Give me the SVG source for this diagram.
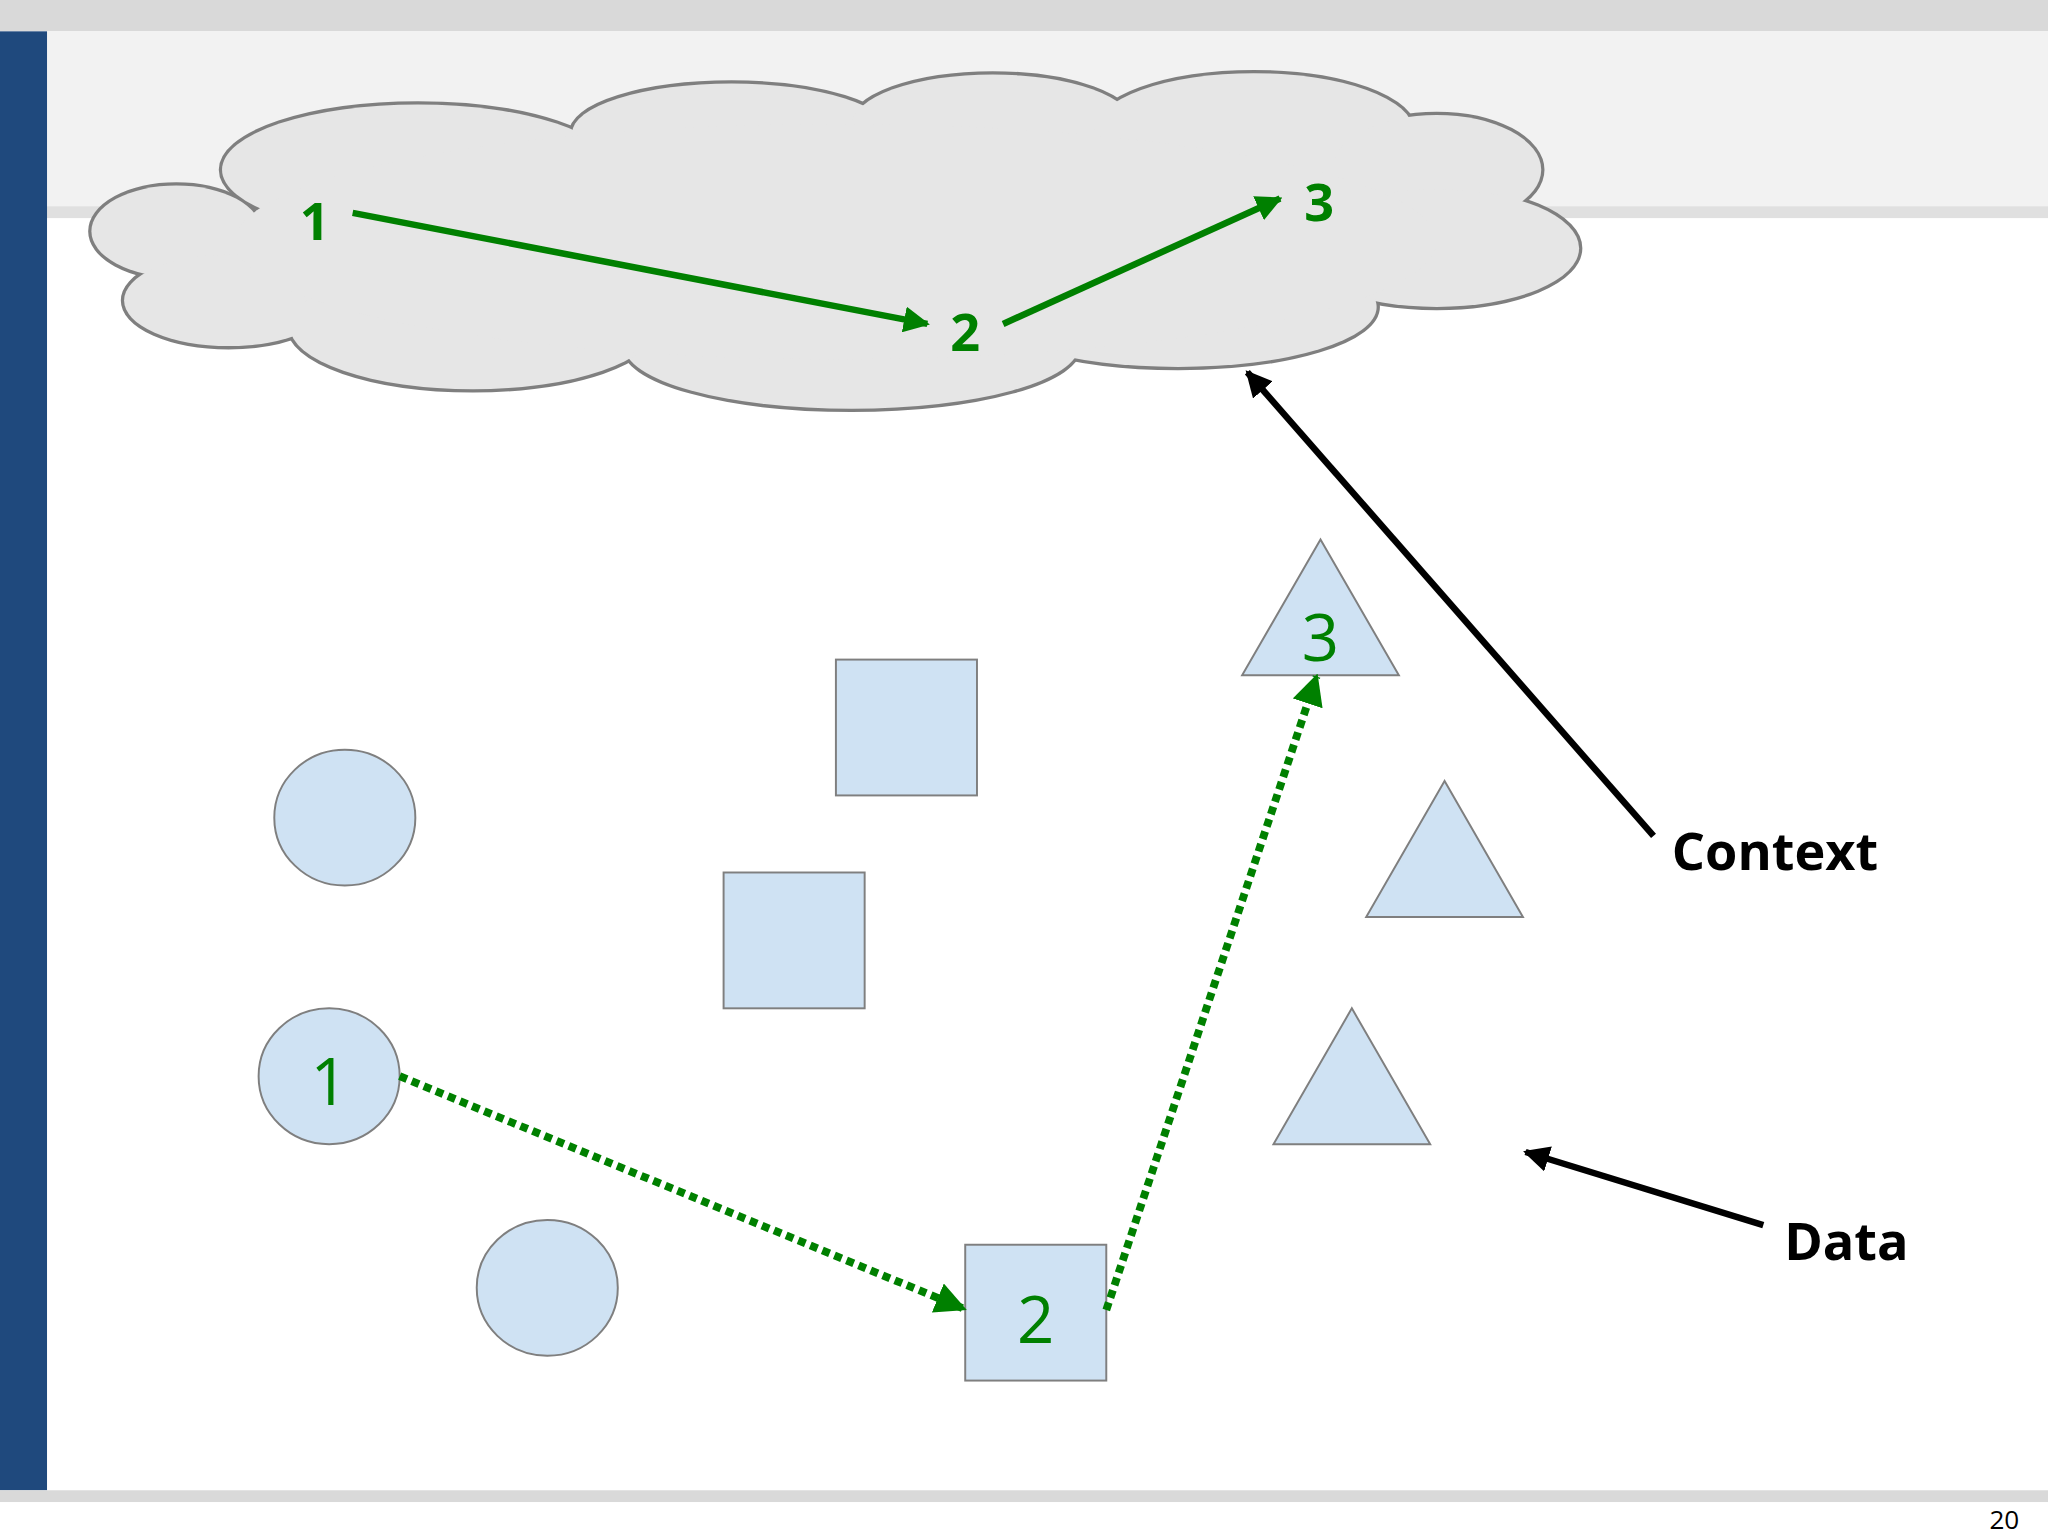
<svg xmlns="http://www.w3.org/2000/svg" width="2048" height="1536" viewBox="0 0 2048 1536">
<style>
.cl{fill:#e6e6e6;stroke:#7f7f7f;stroke-width:5}
.cf{fill:#e6e6e6}
.sh{fill:#cfe2f3;stroke:#7f7f7f;stroke-width:1.5}
.gn{fill:#008000;font-family:"Open Sans",sans-serif;text-anchor:middle}
.g{stroke:#008000;stroke-width:5;fill:none}
.gd{stroke:#008000;stroke-width:6;stroke-dasharray:6 4;fill:none}
.k{stroke:#000;stroke-width:5;fill:none}
.lb{font-family:"Open Sans",sans-serif;font-weight:bold;font-size:40px;fill:#000}
</style>
<defs>
<marker id="ag" viewBox="0 0 10 10" refX="9" refY="5" markerWidth="4" markerHeight="4" orient="auto" markerUnits="strokeWidth"><path d="M0,0L10,5L0,10z" fill="#008000"/></marker>
<marker id="ak" viewBox="0 0 10 10" refX="9" refY="5" markerWidth="4" markerHeight="4" orient="auto" markerUnits="strokeWidth"><path d="M0,0L10,5L0,10z" fill="#000"/></marker>
</defs>
<rect width="2048" height="1536" fill="#fff"/>
<g transform="scale(1.30612)">
<rect x="0" y="0" width="1568" height="24" fill="#d9d9d9"/>
<rect x="36" y="24" width="1532" height="136" fill="#f2f2f2"/>
<rect x="36" y="158" width="1532" height="9" fill="#e0e0e0"/>
<rect x="0" y="24" width="36" height="1117" fill="#1f497d"/>
<rect x="0" y="1141" width="1568" height="9" fill="#d9d9d9"/>
<text x="1546" y="1171" font-family="Open Sans,sans-serif" font-size="20" text-anchor="end">20</text>
<g id="cloud">
<ellipse class="cl" cx="135" cy="177" rx="65" ry="35"/>
<ellipse class="cl" cx="175" cy="230" rx="80" ry="35"/>
<ellipse class="cl" cx="320" cy="130" rx="150" ry="50"/>
<ellipse class="cl" cx="560" cy="102" rx="122" ry="38"/>
<ellipse class="cl" cx="760" cy="96" rx="108" ry="39"/>
<ellipse class="cl" cx="960" cy="100" rx="122" ry="44"/>
<ellipse class="cl" cx="1100" cy="130" rx="80" ry="42"/>
<ellipse class="cl" cx="1100" cy="190" rx="109" ry="45"/>
<ellipse class="cl" cx="902" cy="235" rx="152" ry="46"/>
<ellipse class="cl" cx="652" cy="265" rx="174" ry="48"/>
<ellipse class="cl" cx="362" cy="250" rx="140" ry="48"/>
<ellipse class="cf" cx="135" cy="177" rx="65" ry="35"/>
<ellipse class="cf" cx="175" cy="230" rx="80" ry="35"/>
<ellipse class="cf" cx="320" cy="130" rx="150" ry="50"/>
<ellipse class="cf" cx="560" cy="102" rx="122" ry="38"/>
<ellipse class="cf" cx="760" cy="96" rx="108" ry="39"/>
<ellipse class="cf" cx="960" cy="100" rx="122" ry="44"/>
<ellipse class="cf" cx="1100" cy="130" rx="80" ry="42"/>
<ellipse class="cf" cx="1100" cy="190" rx="109" ry="45"/>
<ellipse class="cf" cx="902" cy="235" rx="152" ry="46"/>
<ellipse class="cf" cx="652" cy="265" rx="174" ry="48"/>
<ellipse class="cf" cx="362" cy="250" rx="140" ry="48"/>
<ellipse class="cf" cx="640" cy="185" rx="460" ry="90"/>
</g>
<g id="c1"><text class="gn" x="241" y="184" font-size="40" font-weight="bold">1</text></g>
<g id="c2"><text class="gn" x="739" y="269" font-size="40" font-weight="bold">2</text></g>
<g id="c3"><text class="gn" x="1010" y="169" font-size="40" font-weight="bold">3</text></g>
<g id="circleA"><ellipse class="sh" cx="264" cy="626" rx="54" ry="52"/></g>
<g id="circle1"><ellipse class="sh" cx="252" cy="824" rx="54" ry="52"/><text class="gn" x="252" y="846" font-size="50">1</text></g>
<g id="circleB"><ellipse class="sh" cx="419" cy="986" rx="54" ry="52"/></g>
<g id="squareA"><rect class="sh" x="640" y="505" width="108" height="104"/></g>
<g id="squareB"><rect class="sh" x="554" y="668" width="108" height="104"/></g>
<g id="square2"><rect class="sh" x="739" y="953" width="108" height="104"/><text class="gn" x="793" y="1028" font-size="50">2</text></g>
<g id="tri3"><polygon class="sh" points="1011,413 951,517 1071,517"/><text class="gn" x="1011" y="506" font-size="50">3</text></g>
<g id="triA"><polygon class="sh" points="1106,598 1046,702 1166,702"/></g>
<g id="triB"><polygon class="sh" points="1035,772 975,876 1095,876"/></g>
<g id="connectors">
<line class="g" x1="270" y1="163" x2="710" y2="248" marker-end="url(#ag)"/>
<line class="g" x1="768" y1="248" x2="980" y2="152" marker-end="url(#ag)"/>
<line class="gd" x1="306" y1="824" x2="738" y2="1002" marker-end="url(#ag)"/>
<line class="gd" x1="847" y1="1003" x2="1008" y2="518" marker-end="url(#ag)"/>
<line class="k" x1="1266" y1="640" x2="955" y2="285" marker-end="url(#ak)"/>
<line class="k" x1="1350" y1="938" x2="1168" y2="882" marker-end="url(#ak)"/>
</g>
<g id="context"><text class="lb" x="1280" y="666">Context</text></g>
<g id="data"><text class="lb" x="1366" y="965">Data</text></g>
</g>
</svg>
